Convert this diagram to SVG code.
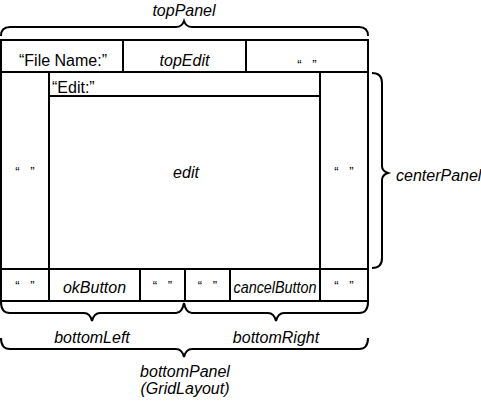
<svg xmlns="http://www.w3.org/2000/svg" width="481" height="419" viewBox="0 0 481 419">
<style>
text{font-family:"Liberation Sans",Arial,Helvetica,sans-serif;font-size:16px;fill:#000}
.i{font-style:italic}
.m{text-anchor:middle}
.q{font-size:13px;text-anchor:middle;word-spacing:7px}
.ln{stroke:#000;stroke-width:2;fill:none}
.br{stroke:#000;stroke-width:2;fill:none;stroke-linejoin:miter}
</style>
<rect width="481" height="419" fill="#fff"/>
<g id="frame">
<rect class="ln" x="1" y="40" width="367" height="261"/>
<line class="ln" x1="1" y1="72" x2="368" y2="72"/>
<line class="ln" x1="123" y1="40" x2="123" y2="72"/>
<line class="ln" x1="246" y1="40" x2="246" y2="72"/>
<line class="ln" x1="49" y1="72" x2="49" y2="301"/>
<line class="ln" x1="320" y1="72" x2="320" y2="301"/>
<line class="ln" x1="49" y1="96" x2="320" y2="96"/>
<line class="ln" x1="1" y1="269" x2="368" y2="269"/>
<line class="ln" x1="140" y1="269" x2="140" y2="301"/>
<line class="ln" x1="185" y1="269" x2="185" y2="301"/>
<line class="ln" x1="230" y1="269" x2="230" y2="301"/>
</g>
<g id="fileNameLabel"><text class="m" x="63" y="66">“File Name:”</text></g>
<g id="topEdit"><text class="i m" x="184.5" y="66">topEdit</text></g>
<g id="topFiller"><text class="q" x="307" y="69">“ ”</text></g>
<g id="editLabel"><text x="52" y="93">“Edit:”</text></g>
<g id="edit"><text class="i m" x="186" y="178">edit</text></g>
<g id="centerLeftFiller"><text class="q" x="25" y="176">“ ”</text></g>
<g id="centerRightFiller"><text class="q" x="344" y="176">“ ”</text></g>
<g id="bottomFiller1"><text class="q" x="25" y="290">“ ”</text></g>
<g id="okButton"><text class="i m" x="94.5" y="293">okButton</text></g>
<g id="bottomFiller2"><text class="q" x="162.5" y="290">“ ”</text></g>
<g id="bottomFiller3"><text class="q" x="207.5" y="290">“ ”</text></g>
<g id="cancelButton"><text class="i m" x="275" y="293" textLength="83" lengthAdjust="spacingAndGlyphs">cancelButton</text></g>
<g id="bottomFiller4"><text class="q" x="344" y="290">“ ”</text></g>
<g id="braces">
<path class="br" d="M1,36 Q1,27 10,27 L176,27 Q182,27 184,21 Q186,27 192,27 L359,27 Q368,27 368,36"/>
<path class="br" d="M372,73 Q382,73 382,83 L382,166 Q382,171 388,173 Q382,175 382,180 L382,258 Q382,268 372,268"/>
<path class="br" d="M1,302 Q1,313 10,313 L84,313 Q90,313 92,321 Q94,313 100,313 L176,313 Q182,313 184,303"/>
<path class="br" d="M184,303 Q186,313 192,313 L268,313 Q274,313 276,321 Q278,313 284,313 L359,313 Q368,313 368,302"/>
<path class="br" d="M1,338 Q1,349 10,349 L176,349 Q182,349 184,357 Q186,349 192,349 L359,349 Q368,349 368,338"/>
</g>
<g id="topPanel"><text class="i m" x="184" y="16">topPanel</text></g>
<g id="centerPanel"><text class="i" x="396" y="181">centerPanel</text></g>
<g id="bottomLeft"><text class="i m" x="92" y="343">bottomLeft</text></g>
<g id="bottomRight"><text class="i m" x="276" y="343">bottomRight</text></g>
<g id="bottomPanel"><text class="i m" x="185" y="377">bottomPanel</text><text class="i m" x="185" y="394">(GridLayout)</text></g>
</svg>
